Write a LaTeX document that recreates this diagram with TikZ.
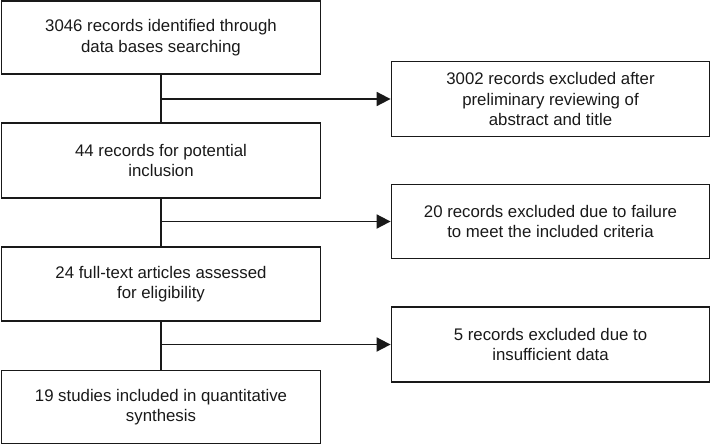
\documentclass[tikz,border=0pt]{standalone}
\usepackage{fontspec}
\setmainfont{Liberation Sans}
\usetikzlibrary{arrows.meta}
\begin{document}
\begin{tikzpicture}[x=1pt,y=-1pt,
  flowbox/.style={draw=black!90, line width=1.8pt, rectangle, inner sep=0pt,
    align=center, font=\fontsize{16.8}{20.5}\selectfont, text=black!90},
  link/.style={line width=1.8pt, draw=black!90},
  arr/.style={link, -{Triangle[length=14pt,width=14pt]}}]
\useasboundingbox (0,0) rectangle (711,445);
\node[flowbox, minimum width=319pt, minimum height=73pt] (A) at (161,37.5) {3046 records identified through\\data bases searching};
\node[flowbox, minimum width=319pt, minimum height=75pt] (B) at (161,160.5) {44 records for potential\\inclusion};
\node[flowbox, minimum width=319pt, minimum height=74pt] (C) at (161,284) {24 full-text articles assessed\\for eligibility};
\node[flowbox, minimum width=319pt, minimum height=73pt] (D) at (161,407) {19 studies included in quantitative\\synthesis};
\node[flowbox, minimum width=318pt, minimum height=75pt] (R1) at (550.5,99) {3002 records excluded after\\preliminary reviewing of\\abstract and title};
\node[flowbox, minimum width=318pt, minimum height=74pt] (R2) at (550.5,221.5) {20 records excluded due to failure\\to meet the included criteria};
\node[flowbox, minimum width=318pt, minimum height=75pt] (R3) at (550.5,344.5) {5 records excluded due to\\insufficient data};
\draw[link] (A) -- (B);
\draw[link] (B) -- (C);
\draw[link] (C) -- (D);
\draw[arr] (R1.west -| A.south) -- (R1.west);
\draw[arr] (R2.west -| B.south) -- (R2.west);
\draw[arr] (R3.west -| C.south) -- (R3.west);
\end{tikzpicture}
\end{document}
